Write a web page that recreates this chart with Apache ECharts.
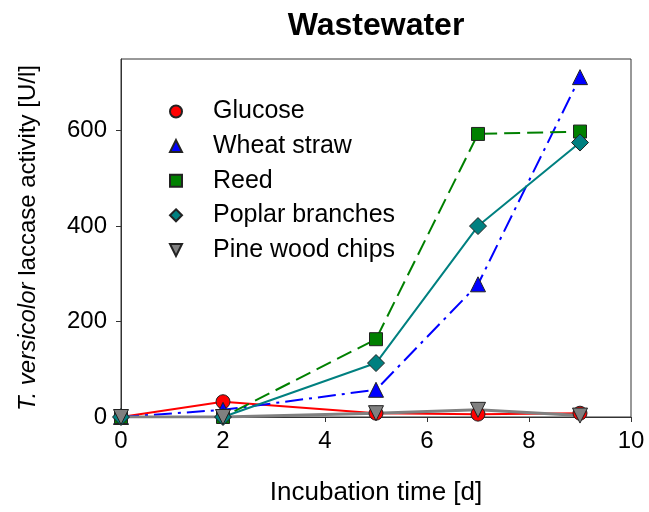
<!DOCTYPE html>
<html>
<head>
<meta charset="utf-8">
<script src="https://cdn.jsdelivr.net/npm/echarts@6/dist/echarts.min.js"></script>
<style>
  html, body { margin: 0; padding: 0; background: #fff; }
  #chart { width: 649px; height: 512px; }
</style>
</head>
<body>
<div id="chart"></div>
<script>
// incubation days
const days = [0, 2, 5, 7, 9];

const glucose = [0, 32, 8, 6, 8];
const wheatStraw = [0, 15, 57, 278, 712];
const reed = [0, 0, 163, 593, 598];
const poplar = [0, 0, 113, 400, 575];
const pine = [0, 0, 8, 15, 3];

const xTicks = [0, 2, 4, 6, 8, 10];
const yTicks = [0, 200, 400, 600];

const downTriangle = 'path://M0,0 L10,0 L5,10 Z';

function pairs(vals) {
    let out = [];
    for (let i = 0; i < days.length; i++) {
        out.push([days[i], vals[i]]);
    }
    return out;
}

function makeSeries(name, vals, color, lineType, symbol, size, width) {
    return {
        name: name,
        type: 'line',
        data: pairs(vals),
        symbol: symbol,
        symbolSize: size,
        showAllSymbol: true,
        lineStyle: { color: color, width: width || 2, type: lineType },
        itemStyle: { color: color, borderColor: '#222', borderWidth: 1 },
        emphasis: { disabled: true },
        animation: false
    };
}

let myChart = echarts.init(document.getElementById('chart'));
let font = 'Liberation Sans, Arial, sans-serif';

let option = {
    backgroundColor: '#fff',
    title: {
        text: 'Wastewater',
        left: 371,
        textAlign: 'center',
        top: 5,
        textStyle: { fontFamily: font, fontSize: 32, fontWeight: 'bold', color: '#000' }
    },
    legend: {
        orient: 'vertical',
        left: 164,
        top: 94,
        itemGap: 9.6,
        itemWidth: 12,
        itemHeight: 12,
        textStyle: {
            fontFamily: font, fontSize: 25, lineHeight: 24, color: '#000',
            padding: [0, 0, 0, 26]
        },
        data: [
            { name: 'Glucose', icon: 'circle' },
            { name: 'Wheat straw', icon: 'triangle' },
            { name: 'Reed', icon: 'rect' },
            { name: 'Poplar branches', icon: 'diamond' },
            { name: 'Pine wood chips', icon: downTriangle }
        ]
    },
    grid: {
        left: 121,
        right: 18,
        top: 59,
        bottom: 95,
        show: true,
        borderColor: '#333',
        borderWidth: 1
    },
    xAxis: {
        type: 'value',
        min: 0,
        max: 10,
        interval: 2,
        name: 'Incubation time [d]',
        nameLocation: 'middle',
        nameGap: 63,
        nameTextStyle: { fontFamily: font, fontSize: 26, color: '#000' },
        axisLine: { lineStyle: { color: '#333' } },
        axisTick: { length: 5, lineStyle: { color: '#333' }, customValues: xTicks },
        axisLabel: {
            fontFamily: font, fontSize: 24, color: '#000', margin: 12,
            customValues: xTicks
        },
        splitLine: { show: false }
    },
    yAxis: {
        type: 'value',
        min: 0,
        max: 750,
        interval: 200,
        name: '{i|T. versicolor} laccase activity [U/l]',
        nameLocation: 'middle',
        nameGap: 81,
        nameTextStyle: {
            fontFamily: font, fontSize: 24, color: '#000',
            rich: { i: { fontFamily: font, fontSize: 24, fontStyle: 'italic', color: '#000' } }
        },
        axisLine: { lineStyle: { color: '#333' } },
        axisTick: { length: 5, lineStyle: { color: '#333' }, customValues: yTicks },
        axisLabel: {
            fontFamily: font, fontSize: 24, color: '#000', margin: 14,
            customValues: yTicks
        },
        splitLine: { show: false }
    },
    series: [
        makeSeries('Glucose', glucose, '#ff0000', 'solid', 'circle', 14),
        makeSeries('Wheat straw', wheatStraw, '#0000ff', [18, 6, 3, 6], 'triangle', 15),
        makeSeries('Reed', reed, '#008000', [16, 7], 'rect', 13),
        makeSeries('Poplar branches', poplar, '#008080', 'solid', 'diamond', 17),
        makeSeries('Pine wood chips', pine, '#808080', 'solid', downTriangle, 15, 3)
    ]
};

option && myChart.setOption(option);
</script>
</body>
</html>
